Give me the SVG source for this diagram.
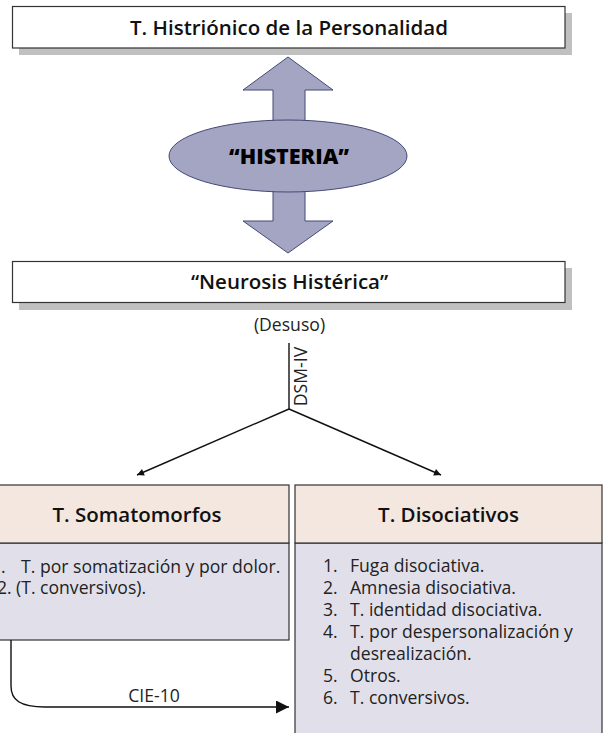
<svg xmlns="http://www.w3.org/2000/svg" width="609" height="733" viewBox="0 0 609 733">
  <style>
    .box { fill: #ffffff; stroke: #333333; stroke-width: 1.2; }
    .shadow { fill: #c0c0c0; }
    .big { fill: #a3a5c3; stroke: #454a75; stroke-width: 1; }
    .head { fill: #f3e7df; stroke: #333333; stroke-width: 1.2; }
    .body { fill: #e1e0ea; stroke: #333333; stroke-width: 1.2; }
    .title { font-family: "Open Sans", "DejaVu Sans", sans-serif; font-weight: 600; font-size: 20.5px; fill: #111111; text-anchor: middle; }
    .txt { font-family: "Open Sans", "DejaVu Sans", sans-serif; font-size: 17.6px; fill: #222222; }
    .wire { fill: none; stroke: #111111; stroke-width: 1.4; }
  </style>
  <defs>
    <marker id="tip" viewBox="0 0 10 10" refX="10" refY="5" markerUnits="userSpaceOnUse" markerWidth="9" markerHeight="7" orient="auto">
      <path d="M0,0 L10,5 L0,10 z" fill="#111111"/>
    </marker>
    <marker id="tip-lg" viewBox="0 0 10 10" refX="10" refY="5" markerUnits="userSpaceOnUse" markerWidth="15" markerHeight="13" orient="auto">
      <path d="M0,0 L10,5 L0,10 z" fill="#111111"/>
    </marker>
  </defs>

  <!-- top box -->
  <g id="histrionico">
    <rect class="shadow" x="19" y="13" width="553" height="42"/>
    <rect class="box" x="12.5" y="6.5" width="552.5" height="41.5"/>
    <text class="title" x="289" y="34.5">T. Histriónico de la Personalidad</text>
  </g>

  <!-- double-headed arrow with the central ellipse -->
  <g id="histeria">
    <path class="big" d="M288,57 L333,90 L305,90 L305,221 L333,221 L288,253 L243,221 L273,221 L273,90 L243,90 Z"/>
    <ellipse class="big" cx="288" cy="156" rx="119" ry="36"/>
    <text x="289" y="163.5" font-family="Open Sans, DejaVu Sans, sans-serif" font-weight="800" font-size="21.5" text-anchor="middle" fill="#000000">“HISTERIA”</text>
  </g>

  <!-- second box -->
  <g id="neurosis">
    <rect class="shadow" x="19" y="268" width="553" height="42"/>
    <rect class="box" x="12.5" y="261.5" width="552.5" height="41"/>
    <text class="title" x="289.5" y="289" font-size="21">“Neurosis Histérica”</text>
  </g>

  <g id="desuso">
    <text class="txt" x="289.5" y="331" font-size="19" text-anchor="middle">(Desuso)</text>
  </g>

  <!-- left category (runs past the left edge) -->
  <g id="somatomorfos">
    <rect class="body" x="-15" y="543" width="304" height="97"/>
    <rect class="head" x="-15" y="485" width="304" height="58"/>
    <text class="title" x="137" y="522">T. Somatomorfos</text>
    <text class="txt" x="-9" y="573">1.</text>
    <text class="txt" x="21" y="573">T. por somatización y por dolor.</text>
    <text class="txt" x="-3" y="594">2.</text>
    <text class="txt" x="16" y="594">(T. conversivos).</text>
  </g>

  <!-- right category (runs past the bottom edge) -->
  <g id="disociativos">
    <rect class="body" x="295" y="543" width="307" height="200"/>
    <rect class="head" x="295" y="485" width="307" height="58"/>
    <text class="title" x="448.5" y="522">T. Disociativos</text>
    <text class="txt" x="323" y="572">1.</text>
    <text class="txt" x="350" y="572">Fuga disociativa.</text>
    <text class="txt" x="323" y="594">2.</text>
    <text class="txt" x="350" y="594">Amnesia disociativa.</text>
    <text class="txt" x="323" y="616">3.</text>
    <text class="txt" x="350" y="616">T. identidad disociativa.</text>
    <text class="txt" x="323" y="638">4.</text>
    <text class="txt" x="350" y="638">T. por despersonalización y</text>
    <text class="txt" x="350" y="660">desrealización.</text>
    <text class="txt" x="323" y="682">5.</text>
    <text class="txt" x="350" y="682">Otros.</text>
    <text class="txt" x="323" y="704">6.</text>
    <text class="txt" x="350" y="704">T. conversivos.</text>
  </g>

  <!-- connectors -->
  <g id="connectors">
    <line class="wire" x1="289" y1="343" x2="289" y2="409"/>
    <text class="txt" font-size="11.5" text-anchor="middle" transform="translate(307,376.5) rotate(-90)">DSM-IV</text>
    <line class="wire" x1="289" y1="409" x2="137" y2="475" marker-end="url(#tip)"/>
    <line class="wire" x1="289" y1="409" x2="441" y2="475" marker-end="url(#tip)"/>
    <path class="wire" d="M11,640 V686 C11,700 20,707 45,707 H289" stroke-width="1.2" marker-end="url(#tip-lg)"/>
    <text class="txt" x="154" y="702" font-size="18.5" text-anchor="middle">CIE-10</text>
  </g>
</svg>
